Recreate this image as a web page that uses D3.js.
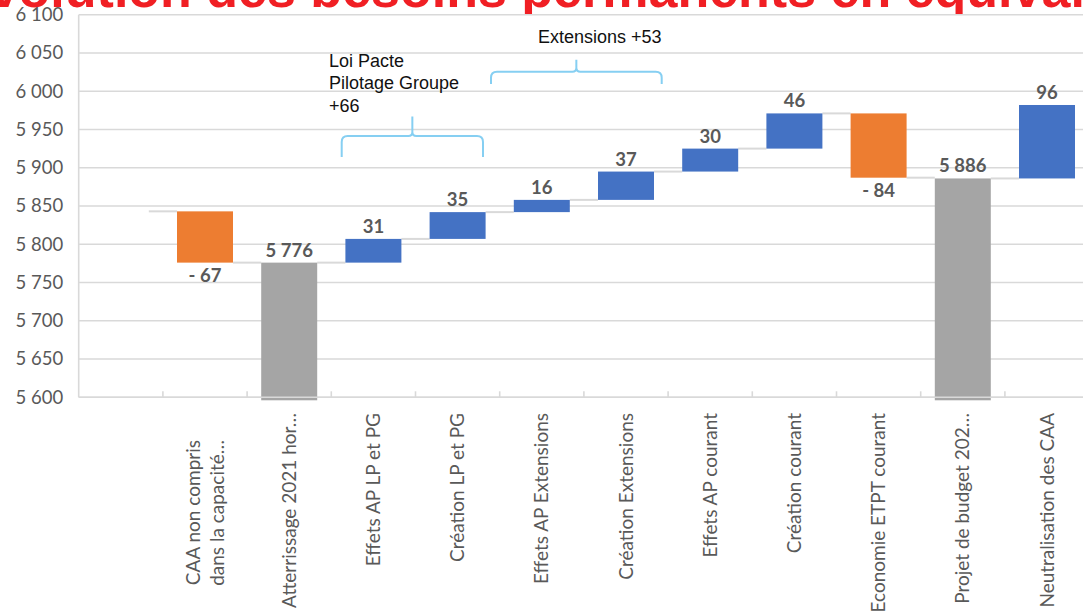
<!DOCTYPE html>
<html>
<head>
<meta charset="utf-8">
<script src="https://cdn.jsdelivr.net/npm/d3@7"></script>
<style>
  body { margin: 0; background: #fff; }
  svg { display: block; }
</style>
</head>
<body>
<svg id="chart" width="1083" height="612"></svg>
<script>
// Waterfall: ETPT bridge from the 2021 landing to the 2022 budget project
const categories = [
  "",
  "CAA non compris\ndans la capacité…",
  "Atterrissage 2021 hor…",
  "Effets AP LP et PG",
  "Création LP et PG",
  "Effets AP Extensions",
  "Création Extensions",
  "Effets AP courant",
  "Création courant",
  "Economie ETPT courant",
  "Projet de budget 202…",
  "Neutralisation des CAA"
];
const values = [5843, -67, 5776, 31, 35, 16, 37, 30, 46, -84, 5886, 96];
const isTotal = [true, false, true, false, false, false, false, false, false, false, true, false];
const yTicks = [5600, 5650, 5700, 5750, 5800, 5850, 5900, 5950, 6000, 6050, 6100];
const titleText = "Evolution des besoins permanents en équivalent temps plein";
const groupNotes = [
  { lines: ["Loi Pacte", "Pilotage Groupe", "+66"], first: 3, last: 4 },
  { lines: ["Extensions +53"], first: 5, last: 6 }
];

const W = 1083, H = 612;
const plot = { left: 78.7, top: 14.7, bottom: 397.3 };
const step = 84.2;

const svg = d3.select("#chart");
const fontUI = "Lato, 'Open Sans', sans-serif";
const textGrey = "#595959";
const gridGrey = "#d9d9d9";
const colors = { up: "#4472c4", down: "#ed7d31", total: "#a5a5a5" };

const fr = d3.formatLocale({ decimal: ",", thousands: " ", grouping: [3], currency: ["", " €"] });
const fmt = fr.format(",d");

// title (runs past the page edges; the chart area covers its lower part)
svg.append("text")
  .attr("x", -45).attr("y", 7)
  .attr("font-family", "'Liberation Sans', Arial, sans-serif")
  .attr("font-weight", "bold")
  .attr("font-size", 52)
  .attr("fill", "#f01f24")
  .text(titleText);

svg.append("rect")
  .attr("x", 0).attr("y", plot.top).attr("width", W).attr("height", H - plot.top)
  .attr("fill", "#fff");

const x = d3.scaleBand()
  .domain(d3.range(categories.length))
  .range([plot.left, plot.left + step * categories.length])
  .paddingInner(0.335)
  .paddingOuter(0.1675);

const y = d3.scaleLinear().domain([5600, 6100]).range([plot.bottom, plot.top]);

// running totals
let running = 0;
const steps = values.map((v, i) => {
  let start, end;
  if (isTotal[i]) { start = y.domain()[0]; end = v; running = v; }
  else { start = running; end = running + v; running = end; }
  return { i, v, start, end, total: isTotal[i], name: categories[i] };
});

// gridlines
svg.append("g").selectAll("line").data(yTicks).join("line")
  .attr("x1", plot.left).attr("x2", W)
  .attr("y1", d => y(d)).attr("y2", d => y(d))
  .attr("stroke", gridGrey).attr("stroke-width", 1.6);

svg.append("line")
  .attr("x1", plot.left).attr("x2", plot.left)
  .attr("y1", plot.top).attr("y2", plot.bottom)
  .attr("stroke", gridGrey).attr("stroke-width", 1.6);

// y axis labels
const yAxis = d3.axisLeft(y).tickValues(yTicks).tickFormat(fmt).tickSize(0).tickPadding(0);
const yg = svg.append("g").attr("transform", `translate(${plot.left - 15.5},0)`).call(yAxis);
yg.select(".domain").remove();
yg.selectAll("text")
  .attr("font-family", fontUI).attr("font-size", 18.5).attr("fill", textGrey);

// connectors between consecutive bars
const conn = steps.slice(0, -1).map((s, k) => ({ level: s.end, a: s.i, b: steps[k + 1].i }));
svg.append("g").selectAll("line").data(conn).join("line")
  .attr("x1", d => x(d.a) + x.bandwidth())
  .attr("x2", d => x(d.b))
  .attr("y1", d => y(d.level)).attr("y2", d => y(d.level))
  .attr("stroke", gridGrey).attr("stroke-width", 2);

// bars (the unlabeled starting level is not drawn)
const shown = steps.filter(s => s.name !== "");
svg.append("g").selectAll("rect").data(shown).join("rect")
  .attr("x", s => x(s.i))
  .attr("width", x.bandwidth())
  .attr("y", s => y(Math.max(s.start, s.end)))
  .attr("height", s => {
    const h = Math.abs(y(s.start) - y(s.end));
    return s.total ? h + 3 : h;
  })
  .attr("fill", s => s.total ? colors.total : (s.v >= 0 ? colors.up : colors.down));

// x axis line and ticks
svg.append("line")
  .attr("x1", plot.left).attr("x2", W)
  .attr("y1", plot.bottom).attr("y2", plot.bottom)
  .attr("stroke", gridGrey).attr("stroke-width", 1.6);
svg.append("g").selectAll("line").data(d3.range(1, categories.length)).join("line")
  .attr("x1", i => x(i) - x.step() * x.paddingInner() / 2)
  .attr("x2", i => x(i) - x.step() * x.paddingInner() / 2)
  .attr("y1", plot.bottom - 6).attr("y2", plot.bottom)
  .attr("stroke", gridGrey).attr("stroke-width", 1.6);

// value labels
svg.append("g").selectAll("text").data(shown).join("text")
  .attr("x", s => x(s.i) + x.bandwidth() / 2)
  .attr("y", s => (s.total || s.v >= 0) ? y(Math.max(s.start, s.end)) - 6 : y(Math.min(s.start, s.end)) + 19)
  .attr("text-anchor", "middle")
  .attr("font-family", fontUI).attr("font-weight", "bold").attr("font-size", 18.5)
  .attr("fill", textGrey)
  .text(s => s.total ? fmt(s.v) : (s.v < 0 ? "- " + fmt(-s.v) : fmt(s.v)));

// category labels (rotated)
const cat = svg.append("g").selectAll("g").data(shown).join("g")
  .attr("transform", s => {
    const multi = s.name.includes("\n");
    return `translate(${x(s.i) + x.bandwidth() / 2},${multi ? 440 : 413}) rotate(-90)`;
  });
cat.each(function (s) {
  const lines = s.name.split("\n");
  const t = d3.select(this).append("text")
    .attr("text-anchor", "end")
    .attr("font-family", fontUI).attr("font-size", 19)
    .attr("fill", textGrey);
  lines.forEach((ln, k) => {
    t.append("tspan")
      .attr("x", 0)
      .attr("y", (k - (lines.length - 1) / 2) * 24)
      .attr("dy", "0.35em")
      .text(ln);
  });
});

// group braces and notes
function brace(x0, x1, xm, yH, yTip, yPeak) {
  const r = 6;
  return `M${x0},${yTip} L${x0},${yH + r} Q${x0},${yH} ${x0 + r},${yH} ` +
         `L${xm - 4},${yH} Q${xm},${yH} ${xm},${yH - 4} L${xm},${yPeak} ` +
         `M${xm},${yH - 4} Q${xm},${yH} ${xm + 4},${yH} L${x1 - r},${yH} ` +
         `Q${x1},${yH} ${x1},${yH + r} L${x1},${yTip}`;
}
const braceSpecs = [
  { note: groupNotes[0], dx0: -31.7, dx1: 25.4, yH: 5941.5, yTip: 5914, yPeak: 5967, tx: 329, ty: 66.7 },
  { note: groupNotes[1], dx0: -50.8, dx1: 35.7, yH: 6025.5, yTip: 6009.5, yPeak: 6041, tx: 538, ty: 43.3 }
];
braceSpecs.forEach(b => {
  const c0 = x(b.note.first) + x.bandwidth() / 2 + b.dx0;
  const c1 = x(b.note.last) + x.bandwidth() / 2 + b.dx1;
  const cm = (c0 + c1) / 2;
  svg.append("path")
    .attr("d", brace(c0, c1, cm, y(b.yH), y(b.yTip), y(b.yPeak)))
    .attr("fill", "none").attr("stroke", "#86cff2").attr("stroke-width", 2);
  const t = svg.append("text")
    .attr("font-family", "'Liberation Sans', Arial, sans-serif")
    .attr("font-size", 18).attr("fill", "#111");
  b.note.lines.forEach((ln, k) => {
    t.append("tspan").attr("x", b.tx).attr("y", b.ty + k * 22.5).text(ln);
  });
});
</script>
</body>
</html>
